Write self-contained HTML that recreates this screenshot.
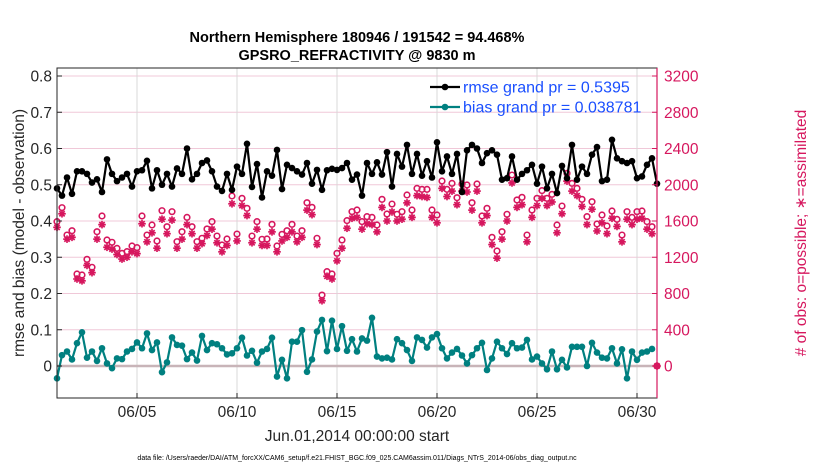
<!DOCTYPE html>
<html><head><meta charset="utf-8"><style>
body{margin:0;background:#fff;width:830px;height:470px;overflow:hidden;font-family:"Liberation Sans",sans-serif}
</style></head><body>
<svg id="c" width="830" height="470" xmlns="http://www.w3.org/2000/svg" font-family="Liberation Sans, sans-serif"></svg>
<script>
const rmse=[0.49,0.47,0.52,0.475,0.537,0.537,0.53,0.506,0.515,0.48,0.57,0.53,0.51,0.52,0.53,0.495,0.537,0.54,0.566,0.49,0.54,0.5,0.53,0.495,0.545,0.53,0.6,0.515,0.53,
0.56,0.567,0.537,0.495,0.483,0.53,0.486,0.55,0.53,0.613,0.494,0.557,0.465,0.537,0.525,0.596,0.488,0.555,0.546,0.537,0.528,0.56,0.503,0.541,0.486,0.54,0.544,0.541,0.546,0.56,
0.514,0.528,0.47,0.56,0.53,0.562,0.528,0.59,0.495,0.585,0.55,0.61,0.53,0.585,0.525,0.565,0.52,0.617,0.537,0.578,0.53,0.585,0.48,0.595,0.61,0.6,0.56,0.587,0.595,0.583,0.514,
0.518,0.578,0.514,0.53,0.54,0.555,0.503,0.55,0.49,0.53,0.477,0.552,0.518,0.61,0.514,0.55,0.53,0.583,0.604,0.51,0.514,0.624,0.573,0.565,0.56,0.565,0.518,0.523,0.555,0.573,0.503];
const bias=[-0.034,0.03,0.04,0.018,0.063,0.093,0.023,0.04,0.014,0.049,0.007,-0.006,0.021,0.019,0.04,0.047,0.065,0.049,0.09,0.044,0.065,-0.017,0.01,0.079,0.058,0.056,0.019,0.037,0.015,
0.083,0.044,0.063,0.06,0.049,0.032,0.035,0.049,0.078,0.029,0.042,0.009,0.04,0.047,0.078,-0.029,0.017,-0.034,0.067,0.067,0.099,-0.016,0.018,0.095,0.127,0.041,0.125,0.047,0.11,0.042,
0.074,0.04,0.076,0.07,0.133,0.026,0.021,0.023,0.018,0.074,0.063,0.044,0.014,0.079,0.072,0.051,0.079,0.088,0.049,0.021,0.037,0.047,0.029,0.007,0.03,0.049,0.064,-0.011,0.021,0.067,
0.049,0.033,0.063,0.049,0.051,0.072,0.018,0.026,0.007,-0.009,0.04,-0.009,0.017,-0.004,0.053,0.053,0.053,0,0.064,0.037,0.023,0.021,0.049,0.007,0.046,-0.034,0.04,0.017,0.037,0.04,0.047];
const possible=[1593,1747,1445,1493,1015,1004,1177,1089,1482,1655,1390,1365,1298,1243,1262,1324,1306,1655,1445,1556,1379,1714,1537,1703,1372,1482,1640,1537,1372,
1409,1512,1593,1434,1335,1401,1876,1456,1850,1740,1434,1593,1398,1401,1563,1324,1453,1493,1563,1434,1493,1802,1751,1409,783,1041,1015,1243,1390,1604,
1703,1721,1593,1648,1640,1556,1839,1677,1787,1674,1703,1887,1721,1960,1949,1949,1721,1666,2041,1949,2015,1857,2008,1997,1802,2008,1655,1740,1420,1269,
1482,1674,2107,1832,1861,1445,1721,1850,1935,1850,1894,1556,1765,2126,2015,1960,1839,1648,1813,1567,1666,1545,1710,1618,1445,1703,1640,1703,1710,1593,1537,0];
const assimilated=[1530,1680,1400,1420,960,940,1110,1030,1400,1560,1310,1290,1230,1180,1200,1260,1240,1570,1370,1470,1300,1620,1460,1610,1300,1400,1560,1460,1300,
1350,1440,1510,1360,1260,1330,1790,1380,1770,1660,1360,1510,1330,1330,1480,1260,1380,1420,1480,1370,1420,1720,1670,1340,720,990,960,1160,1300,1520,
1630,1640,1510,1570,1560,1480,1750,1600,1700,1600,1620,1800,1640,1880,1870,1860,1640,1580,1960,1870,1930,1780,1930,1920,1720,1930,1580,1660,1340,1190,
1400,1600,2020,1750,1780,1370,1640,1770,1850,1770,1810,1470,1680,2040,1930,1880,1760,1560,1730,1490,1580,1460,1630,1540,1370,1620,1560,1620,1630,1510,1460,0];
const xTickDays=[4,9,14,19,24,29];
const xTickLabels=["06/05","06/10","06/15","06/20","06/25","06/30"];
const yTicks=[0,0.1,0.2,0.3,0.4,0.5,0.6,0.7,0.8];
const y2Ticks=[0,400,800,1200,1600,2000,2400,2800,3200];
const stepDays=0.25;

const svg=document.getElementById('c');const NS='http://www.w3.org/2000/svg';
const L=57,R=657,T=68,B=398;
const x=t=>L+(R-L)*t/30;
const y=v=>366-v*362.5;
const y2=v=>366-v*290/3200;
function mk(tag,a,p){const e=document.createElementNS(NS,tag);for(const k in a)e.setAttribute(k,a[k]);(p||svg).appendChild(e);return e;}
function tx(s,a){const e=mk('text',a);e.textContent=s;return e;}
mk('rect',{x:L,y:T,width:R-L,height:B-T,fill:'#fff'});
const grid=mk('g',{});


yTicks.forEach(v=>{if(v>0)mk('line',{x1:L,x2:R,y1:y(v),y2:y(v),stroke:'#f0c8d8','stroke-width':1},grid);});
xTickDays.forEach(d=>mk('line',{x1:x(d),x2:x(d),y1:T,y2:B,stroke:'#d8d8d8','stroke-width':1},grid));
const zl=mk('line',{x1:L,x2:R,y1:y(0),y2:y(0),stroke:'#c8b4b8','stroke-width':2.5});


// obs
const obs=mk('g',{});


const red='#d6175e';
possible.forEach((v,i)=>{const cx=x(i*stepDays),cy=y2(v);
 const c=mk('circle',{cx:cx,cy:cy,r:2.8,fill:'none',stroke:red,'stroke-width':1.6},obs);
 
 });
assimilated.forEach((v,i)=>{const cx=x(i*stepDays),cy=y2(v),s=3.8,d=s*0.7;
 const g=mk('g',{stroke:red,'stroke-width':1.7},obs);
 
 
 mk('line',{x1:cx-s,x2:cx+s,y1:cy,y2:cy},g);mk('line',{x1:cx,x2:cx,y1:cy-s,y2:cy+s},g);
 mk('line',{x1:cx-d,x2:cx+d,y1:cy-d,y2:cy+d},g);mk('line',{x1:cx-d,x2:cx+d,y1:cy+d,y2:cy-d},g);});
function series(arr,col,name){
 const g=mk('g',{});
 
 
 mk('polyline',{points:arr.map((v,i)=>x(i*stepDays)+','+y(v)).join(' '),fill:'none',stroke:col,'stroke-width':2.2,'stroke-linejoin':'round'},g);
 arr.forEach((v,i)=>{const c=mk('circle',{cx:x(i*stepDays),cy:y(v),r:3.3,fill:col},g);
  
  });
}
series(bias,'#008080','bias-series');
series(rmse,'#000','rmse-series');
// axes
mk('rect',{x:L,y:T,width:R-L,height:B-T,fill:'none',stroke:'#262626','stroke-width':1});
mk('line',{x1:R,x2:R,y1:T,y2:B,stroke:red,'stroke-width':1.2});
yTicks.forEach(v=>{mk('line',{x1:L,x2:L+5,y1:y(v),y2:y(v),stroke:'#262626'});
 const t=tx(String(v),{x:L-5,y:y(v)+5.5,'font-size':15.5,'text-anchor':'end',fill:'#262626'});
 
 });
y2Ticks.forEach(v=>{mk('line',{x1:R-5,x2:R,y1:y2(v),y2:y2(v),stroke:red});
 const t=tx(String(v),{x:R+7,y:y2(v)+5.5,'font-size':15.5,fill:red});
 
 });
xTickDays.forEach((d,i)=>{mk('line',{x1:x(d),x2:x(d),y1:B-5,y2:B,stroke:'#262626'});
 const t=tx(xTickLabels[i],{x:x(d),y:B+19,'font-size':15.5,'text-anchor':'middle',fill:'#262626'});
 
 });
const zm=mk('g',{stroke:red,'stroke-width':1.7});


// legend
const lg=mk('g',{});


[['#000','rmse grand pr = 0.5395',87],['#008080','bias grand pr = 0.038781',107]].forEach(e=>{
 mk('line',{x1:430,x2:460,y1:e[2],y2:e[2],stroke:e[0],'stroke-width':2.2},lg);
 mk('circle',{cx:445,cy:e[2],r:3.3,fill:e[0]},lg);
 const t=tx(e[1],{x:463,y:e[2]+5.5,'font-size':16,fill:'#1a4fff'});
 
 });
const t1=tx('Northern Hemisphere 180946 / 191542 = 94.468%',{x:357,y:42,'font-size':14.5,'font-weight':'bold','text-anchor':'middle',fill:'#000'});


const t2=tx('GPSRO_REFRACTIVITY @ 9830 m',{x:357,y:60,'font-size':14.5,'font-weight':'bold','text-anchor':'middle',fill:'#000'});


const yl=tx('rmse and bias (model - observation)',{x:0,y:0,'font-size':15.5,'text-anchor':'middle',fill:'#262626',transform:'translate(24,233) rotate(-90)'});


const y2l=tx('# of obs: o=possible; \u2217=assimilated',{x:0,y:0,'font-size':15.5,'text-anchor':'middle',fill:red,transform:'translate(806,233) rotate(-90)'});


const xl=tx('Jun.01,2014 00:00:00 start',{x:357,y:441,'font-size':15.5,'text-anchor':'middle',fill:'#262626'});


const fn=tx('data file: /Users/raeder/DAI/ATM_forcXX/CAM6_setup/f.e21.FHIST_BGC.f09_025.CAM6assim.011/Diags_NTrS_2014-06/obs_diag_output.nc',{x:357,y:460,'font-size':7,'text-anchor':'middle',fill:'#000'});


</script>
</body></html>
